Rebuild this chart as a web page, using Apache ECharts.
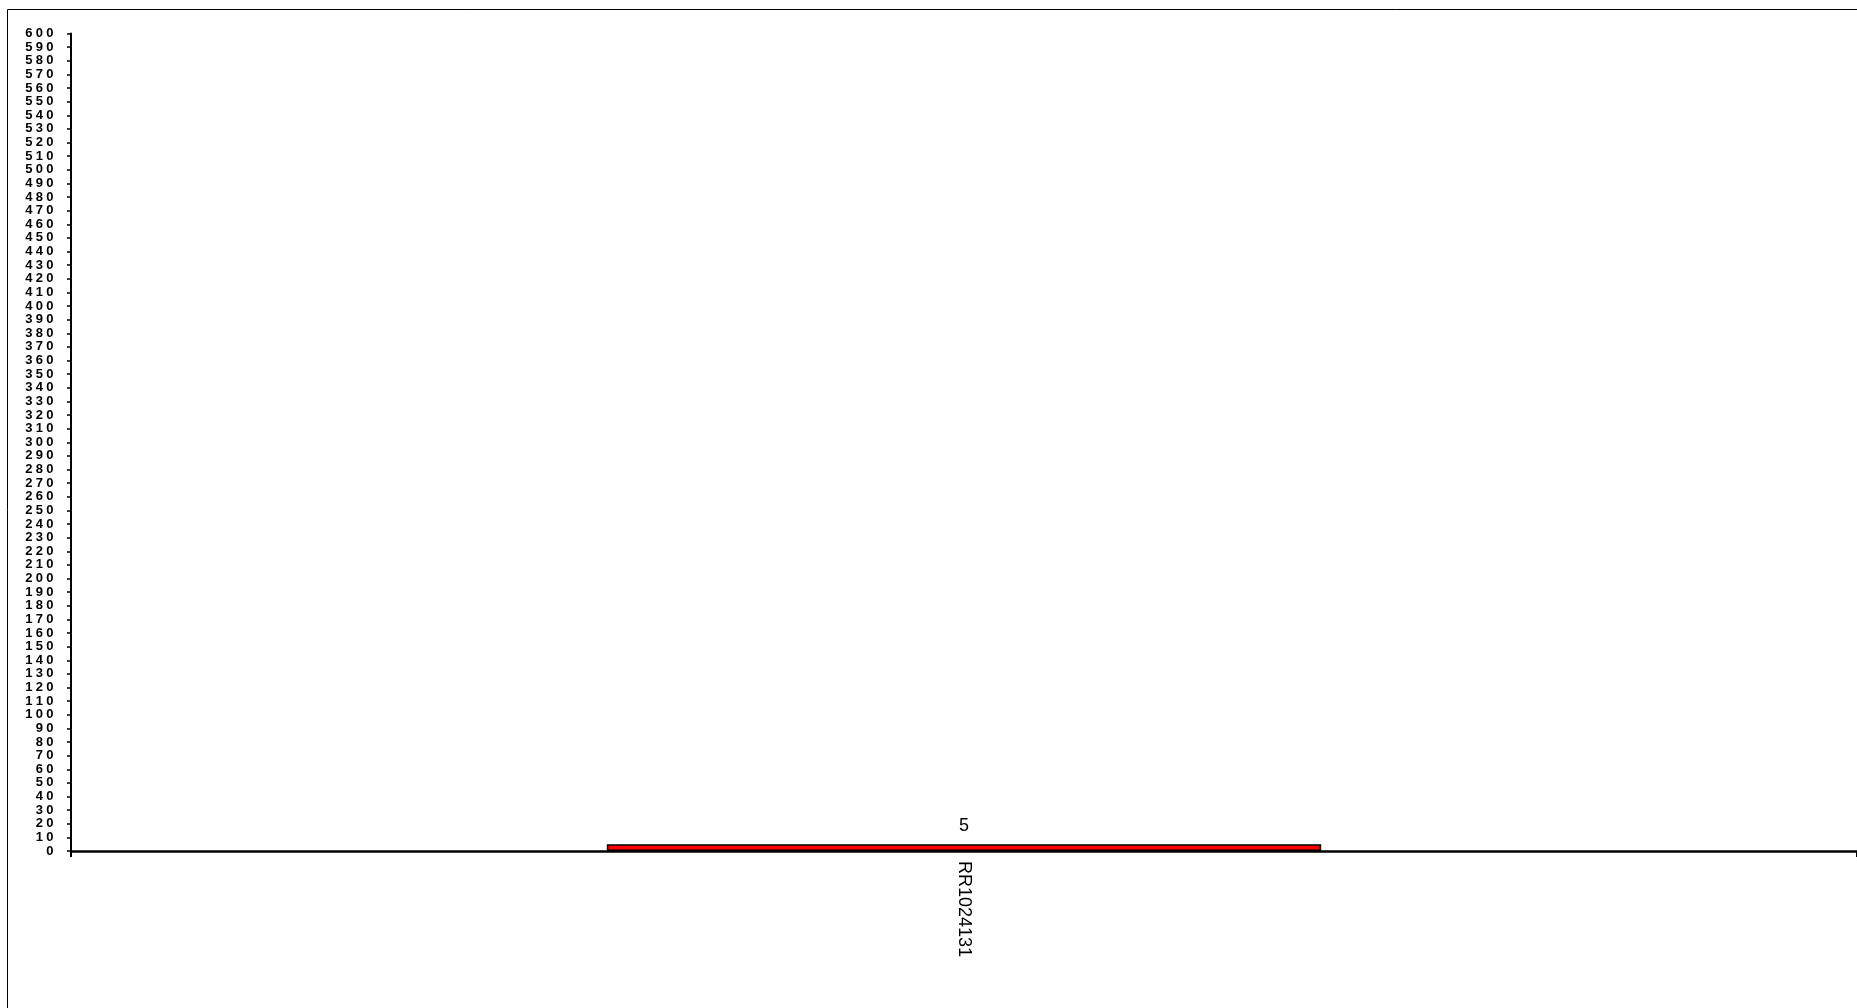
<!DOCTYPE html>
<html>
<head>
<meta charset="utf-8">
<script src="https://cdn.jsdelivr.net/npm/echarts@6/dist/echarts.min.js"></script>
<style>
html,body{margin:0;padding:0;background:#fff;}
#chart{width:1857px;height:1008px;}
</style>
</head>
<body>
<div id="chart"></div>
<script>
const categories = ['RR1024131'];
const values = [5];
const yMin = 0;
const yMax = 600;
const yStep = 10;

const chart = echarts.init(document.getElementById('chart'), null, {renderer: 'canvas'});
chart.setOption({
  animation: false,
  backgroundColor: '#fff',
  graphic: [{
    type: 'rect',
    silent: true,
    z: -10,
    shape: {x: 7.5, y: 9.5, width: 2000, height: 1200},
    style: {fill: 'none', stroke: '#000', lineWidth: 1}
  }],
  grid: {left: 71, right: -5, top: 33.5, bottom: 157, containLabel: false},
  xAxis: {
    type: 'category',
    data: categories,
    boundaryGap: true,
    axisLine: {show: true, lineStyle: {color: '#000', width: 2.5}},
    axisTick: {show: true, length: 6, lineStyle: {color: '#000', width: 2}},
    axisLabel: {
      rotate: -90,
      margin: 10,
      fontFamily: 'Liberation Sans, Arial, sans-serif',
      fontSize: 18,
      color: '#000'
    },
    splitLine: {show: false}
  },
  yAxis: {
    type: 'value',
    min: yMin,
    max: yMax,
    interval: yStep,
    axisLine: {show: true, lineStyle: {color: '#000', width: 2}},
    axisTick: {show: true, length: 4, lineStyle: {color: '#000', width: 1.5}},
    splitLine: {show: false},
    axisLabel: {
      margin: 16,
      formatter: v => String(v).split('').map(c => '{d|' + c + '}').join(''),
      rich: {
        d: {
          fontFamily: 'Liberation Sans, Arial, sans-serif',
          fontWeight: 'bold',
          fontSize: 13,
          color: '#000',
          padding: [0, 1.6, 0, 1.6]
        }
      }
    }
  },
  series: [{
    type: 'bar',
    data: values,
    barWidth: '40%',
    itemStyle: {color: '#ff0000', borderColor: '#000', borderWidth: 1.5},
    label: {
      show: true,
      position: 'top',
      distance: 9,
      fontFamily: 'Liberation Sans, Arial, sans-serif',
      fontSize: 18,
      color: '#000'
    }
  }]
});
</script>
</body>
</html>
